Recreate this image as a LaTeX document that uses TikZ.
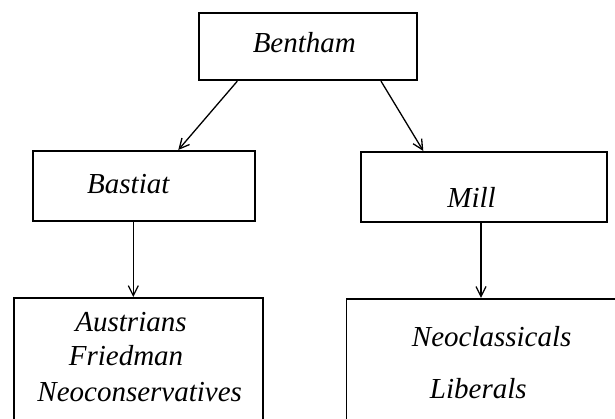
\documentclass[tikz,border=0pt]{standalone}
\usepackage{fontspec}
\setmainfont{Liberation Serif}
\usetikzlibrary{arrows.meta}
\begin{document}
\begin{tikzpicture}[x=1pt,y=-1pt,
  box/.style={draw,line width=1.9pt,inner sep=0pt},
  thinker/.style={anchor=base,inner sep=0pt,font=\fontsize{29}{34}\selectfont\itshape},
  link/.style={line width=1.3pt,-{Straight Barb[length=10pt,width=10pt]}}]
\useasboundingbox (0,0) rectangle (615,418);
\clip (0,0) rectangle (615,418);
%\draw [help lines,step=50pt] (0,0) grid (615,418);
\node[box,minimum width=218pt,minimum height=67pt] (bentham) at (308.3,46.7) {};
\node[box,minimum width=222pt,minimum height=70pt] (bastiat) at (143.9,185.9) {};
\node[box,minimum width=246pt,minimum height=70pt] (mill) at (483.9,186.9) {};
\node[box,minimum width=249pt,minimum height=142pt] (austrians) at (138.7,369) {};
\node[box,minimum width=295pt,minimum height=141pt] (neoclassicals) at (494,369.4) {};
\node[thinker] (benthamtext) at (304.3,52.7) {Bentham};
\node[thinker] (bastiattext) at (128.3,193) {Bastiat};
\node[thinker] (milltext) at (471.5,207) {Mill};
\node[thinker] (austrianstext) at (131,331.3) {Austrians};
\node[thinker] (friedmantext) at (126,365.3) {Friedman};
\node[thinker] (neoconstext) at (139.7,401.3) {Neoconservatives};
\node[thinker] (neoclassicaltext) at (491.7,346.3) {Neoclassicals};
\node[thinker] (liberalstext) at (478.3,398.7) {Liberals};
\draw[link] ([xshift=-71pt]bentham.south) -- ([xshift=34.4pt]bastiat.north);
\draw[link] ([xshift=72.7pt]bentham.south) -- ([xshift=-60.6pt]mill.north);
\draw[link] ([xshift=-10.6pt]bastiat.south) -- ([xshift=-10.6pt]bastiat.south |- austrians.north);
\draw[link] ([xshift=-2.9pt]mill.south) -- ([xshift=-2.9pt]mill.south |- neoclassicals.north);
\end{tikzpicture}
\end{document}
